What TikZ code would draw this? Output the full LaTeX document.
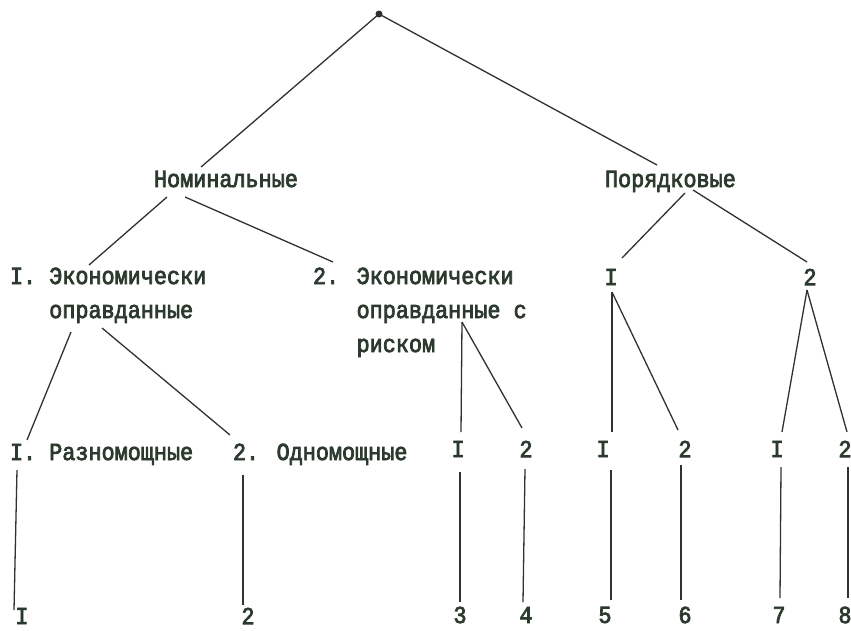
\documentclass[tikz,border=0pt]{standalone}
\usepackage{fontspec}
\newfontfamily\tw[FakeBold=3,FakeStretch=0.89]{Liberation Mono}
\definecolor{ink}{RGB}{44,58,46}
\definecolor{wire}{RGB}{48,50,48}
\begin{document}
\begin{tikzpicture}[x=1pt,y=-1pt,
  lbl/.style={inner sep=0pt, outer sep=0pt, text=ink, font=\tw\fontsize{24.5}{34}\selectfont, align=left},
  txt/.style={lbl, anchor=base west},
  one/.style={lbl, anchor=center},
  edge/.style={draw=wire, line width=1.3pt}]
\useasboundingbox[fill=white] (0,0) rectangle (851,630);
% root
\node[circle, fill=wire, inner sep=0pt, minimum size=7pt] (root) at (379,14) {};
% level 1
\node[txt] (nom) at (154,187) {Номинальные};
\node[txt] (por) at (605,187) {Порядковые};
% level 2 (base anchor = baseline of the last line)
\node[txt] (e1) at (10,318) {I. Экономически\\\phantom{I. }оправданные};
\node[txt] (e2) at (313,352) {2. Экономически\\\phantom{2. }оправданные с\\\phantom{2. }риском};
\node[one] (pI) at (611,277) {I};
\node[one] (p2) at (810,277) {2};
% level 3
\node[txt] (r1) at (10,460) {I. Разномощные};
\node[txt] (r2) at (233,460) {2. Одномощные};
\node[one] (m1) at (458,449) {I};
\node[one] (m2) at (526,449) {2};
\node[one] (q1) at (603,449) {I};
\node[one] (q2) at (685,449) {2};
\node[one] (s1) at (777,449) {I};
\node[one] (s2) at (845,449) {2};
% level 4
\node[one] (b1) at (22,616) {I};
\node[one] (b2) at (248,616) {2};
\node[one] (b3) at (460,615) {3};
\node[one] (b4) at (526,615) {4};
\node[one] (b5) at (605,615) {5};
\node[one] (b6) at (685,615) {6};
\node[one] (b7) at (779,615) {7};
\node[one] (b8) at (845,615) {8};
% connectors
\path[edge] (root.center) -- ([shift={(47,-20)}]nom.base west);
\path[edge] (root.center) -- ([shift={(52,-22)}]por.base west);
\path[edge] ([shift={(13,10)}]nom.base west) -- ([shift={(79,-53)}]e1.base west);
\path[edge] ([shift={(31,10)}]nom.base west) -- ([shift={(20,-90)}]e2.base west);
\path[edge] ([shift={(80,6)}]por.base west) -- ([shift={(11,-19)}]pI.center);
\path[edge] ([shift={(88,3)}]por.base west) -- ([shift={(-3,-15)}]p2.center);
\path[edge] ([shift={(61,14)}]e1.base west) -- ([shift={(17,-20)}]r1.base west);
\path[edge] ([shift={(92,10)}]e1.base west) -- ([shift={(-3,-25)}]r2.base west);
\path[edge] ([shift={(149,-30)}]e2.base west) -- ([shift={(3,-17)}]m1.center);
\path[edge] ([shift={(149,-30)}]e2.base west) -- ([shift={(-4,-21)}]m2.center);
\path[edge] ([shift={(1,15)}]pI.center) -- ([shift={(9,-17)}]q1.center);
\path[edge] ([shift={(1,15)}]pI.center) -- ([shift={(-7,-19)}]q2.center);
\path[edge] ([shift={(-3,13)}]p2.center) -- ([shift={(5,-17)}]s1.center);
\path[edge] ([shift={(-3,13)}]p2.center) -- ([shift={(2,-17)}]s2.center);
\path[edge] ([shift={(7,10)}]r1.base west) -- ([shift={(-8,-6)}]b1.center);
\path[edge] ([shift={(10,15)}]r2.base west) -- ([shift={(-5,-11)}]b2.center);
\path[edge] ([shift={(2,23)}]m1.center) -- ([shift={(0,-13)}]b3.center);
\path[edge] ([shift={(-1,20)}]m2.center) -- ([shift={(-3,-13)}]b4.center);
\path[edge] ([shift={(8,21)}]q1.center) -- ([shift={(6,-15)}]b5.center);
\path[edge] ([shift={(-4,16)}]q2.center) -- ([shift={(-4,-15)}]b6.center);
\path[edge] ([shift={(4,18)}]s1.center) -- ([shift={(1,-17)}]b7.center);
\path[edge] ([shift={(3,18)}]s2.center) -- ([shift={(3,-17)}]b8.center);
\end{tikzpicture}
\end{document}
